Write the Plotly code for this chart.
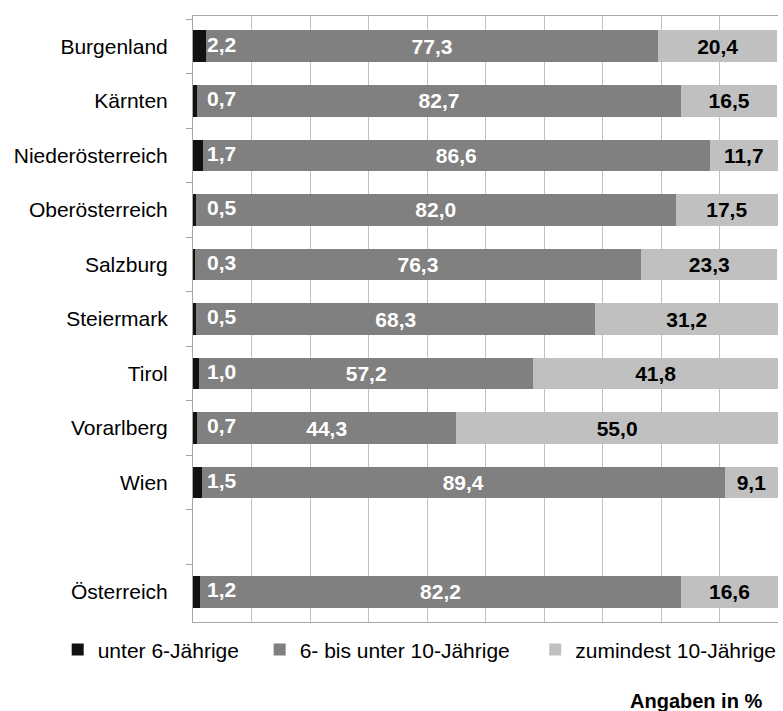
import plotly.graph_objects as go

categories = ["Burgenland", "Kärnten", "Niederösterreich", "Oberösterreich", "Salzburg",
              "Steiermark", "Tirol", "Vorarlberg", "Wien", " ", "Österreich"]
unter6 = [2.2, 0.7, 1.7, 0.5, 0.3, 0.5, 1.0, 0.7, 1.5, None, 1.2]
sechs_bis_10 = [77.3, 82.7, 86.6, 82.0, 76.3, 68.3, 57.2, 44.3, 89.4, None, 82.2]
ab10 = [20.4, 16.5, 11.7, 17.5, 23.3, 31.2, 41.8, 55.0, 9.1, None, 16.6]
series_names = ["unter 6-Jährige", "6- bis unter 10-Jährige", "zumindest 10-Jährige"]
colors = ["#111111", "#808080", "#c0c0c0"]

FONT = "Liberation Sans, Arial, sans-serif"
FS = 21
LABEL_X = 2.4  # position of the small-segment labels (in %)

fig = go.Figure()
fig.add_trace(go.Bar(y=categories, x=unter6, orientation="h", name=series_names[0],
                     marker=dict(color=colors[0], line=dict(width=0)),
                     legend="legend", hoverinfo="skip"))
fig.add_trace(go.Bar(y=categories, x=sechs_bis_10, orientation="h", name=series_names[1],
                     marker=dict(color=colors[1], line=dict(width=0)),
                     texttemplate="%{x:.1f}", textposition="inside", insidetextanchor="middle",
                     textfont=dict(color="white", size=FS, family=FONT, weight="bold"),
                     legend="legend2", hoverinfo="skip"))
fig.add_trace(go.Bar(y=categories, x=ab10, orientation="h", name=series_names[2],
                     marker=dict(color=colors[2], line=dict(width=0)),
                     texttemplate="%{x:.1f}", textposition="inside", insidetextanchor="middle",
                     textfont=dict(color="black", size=FS, family=FONT, weight="bold"),
                     legend="legend3", hoverinfo="skip"))
# labels of the small first segment
lab_y = [c for c, v in zip(categories, unter6) if v is not None]
lab_v = [v for v in unter6 if v is not None]
fig.add_trace(go.Scatter(y=lab_y, x=[LABEL_X] * len(lab_v), customdata=lab_v, mode="text",
                         texttemplate="%{customdata:.1f}", textposition="middle right",
                         textfont=dict(color="white", size=FS, family=FONT, weight="bold"),
                         showlegend=False, hoverinfo="skip", cliponaxis=False))

leg_common = dict(orientation="h", font=dict(size=FS, family=FONT, color="black"),
                  bgcolor="rgba(0,0,0,0)", yanchor="top", y=-0.012, xanchor="left",
                  itemclick=False)
fig.update_layout(
    width=783, height=711,
    margin=dict(l=193, r=2, t=16, b=89),
    paper_bgcolor="white", plot_bgcolor="white",
    barmode="stack", bargap=0.42,
    separators=",.",
    font=dict(family=FONT, size=FS, color="black"),
    xaxis=dict(range=[0, 100], dtick=10, showticklabels=False, showgrid=True,
               gridcolor="#c0c0c0", gridwidth=1, zeroline=False,
               showline=True, mirror=True, linecolor="#a6a6a6", linewidth=1, fixedrange=True),
    yaxis=dict(categoryorder="array", categoryarray=categories, autorange="reversed",
               showline=True, linecolor="#a6a6a6", linewidth=1,
               ticks="outside", tickson="boundaries", ticklen=6, tickcolor="#a6a6a6",
               showgrid=False, ticklabelstandoff=20,
               tickfont=dict(size=FS, family=FONT, color="black"), fixedrange=True),
    legend=dict(leg_common, x=(57 - 193) / 588),
    legend2=dict(leg_common, x=(260 - 193) / 588),
    legend3=dict(leg_common, x=(537 - 193) / 588),
    annotations=[dict(text="<b>Angaben in %</b>", xref="paper", yref="paper",
                      x=(767 - 193) / 588, y=(621.5 - 713) / 605.5, xanchor="right",
                      yanchor="bottom", showarrow=False,
                      font=dict(size=20, family=FONT, color="black"))],
)

fig.write_html("out.html", config={"displayModeBar": False},
               post_script="document.body.style.margin='0';")
